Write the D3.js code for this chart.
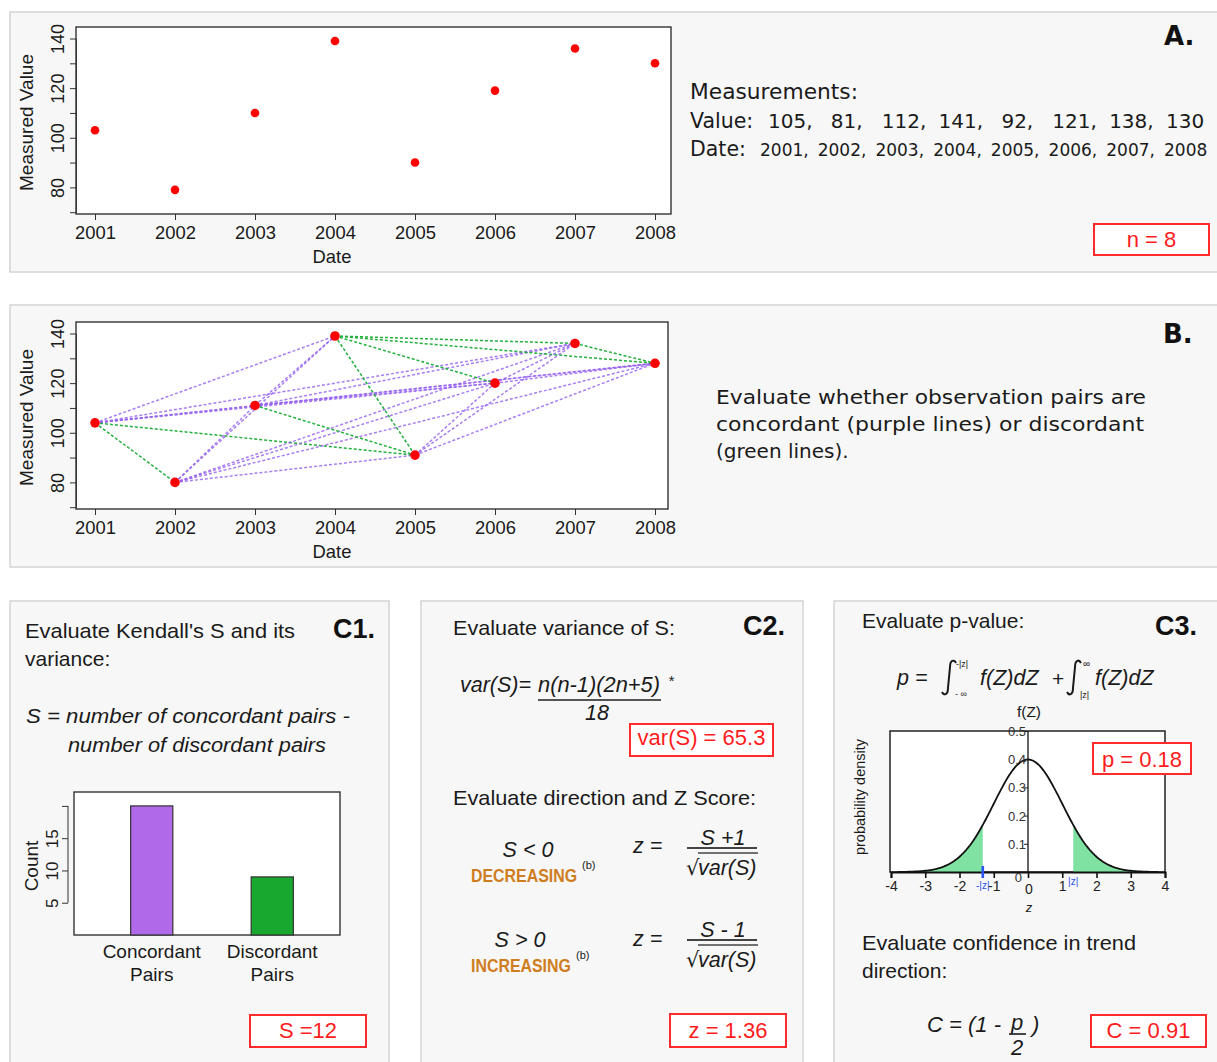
<!DOCTYPE html>
<html>
<head>
<meta charset="utf-8">
<script src="https://cdn.jsdelivr.net/npm/d3@7"></script>
<style>
  body { margin: 0; background: #fff; }
  svg { display: block; font-family: "Liberation Sans", Arial, sans-serif; }
</style>
</head>
<body>
<svg id="fig" width="1217" height="1062"></svg>
<script>
// ---- data ----
const dates = [2001, 2002, 2003, 2004, 2005, 2006, 2007, 2008];
const valuesA = [103, 79, 110, 139, 90, 119, 136, 130];      // dots in panel A
const valuesB = [104, 80, 111, 139, 91, 120, 136, 128];      // dots in panel B
const listedValues = [105, 81, 112, 141, 92, 121, 138, 130]; // printed "Value:" list
const valueTicks = [70, 80, 90, 100, 110, 120, 130, 140];
const pairNames = ["Concordant Pairs", "Discordant Pairs"];
const pairCounts = [20, 9];
const countTicks = [5, 10, 15, 20];
const zTicks = [-4, -3, -2, -1, 0, 1, 2, 3, 4];
const densityTicks = [0.1, 0.2, 0.3, 0.4, 0.5];
const zShade = 1.32;
const nLabel = "n = 8", sLabel = "S =12", varLabel = "var(S) = 65.3";
const zLabel = "z = 1.36", pLabel = "p = 0.18", cLabel = "C = 0.91";

const svg = d3.select("#fig");
const VERA = "'DejaVu Sans', Verdana, sans-serif";
const ARIAL = "'Liberation Sans', Arial, sans-serif";

// little helper for text
function txt(x, y, s, o) {
  o = o || {};
  const t = svg.append("text").attr("x", x).attr("y", y).text(s)
    .attr("font-size", o.size || 20)
    .attr("fill", o.fill || "#1a1a1a")
    .attr("font-family", o.font || ARIAL);
  if (o.italic) t.attr("font-style", "italic");
  if (o.bold) t.attr("font-weight", "bold");
  if (o.anchor) t.attr("text-anchor", o.anchor);
  if (o.len) t.attr("textLength", o.len).attr("lengthAdjust", "spacingAndGlyphs");
  if (o.rot) t.attr("transform", "rotate(-90," + x + "," + y + ")");
  return t;
}

function panel(x, y, w, h) {
  svg.append("rect").attr("x", x).attr("y", y).attr("width", w).attr("height", h)
    .attr("fill", "#f7f7f7").attr("stroke", "#d4d4d4").attr("stroke-width", 1.5);
}

function redBox(x0, y0, x1, y1, label, size, base) {
  svg.append("rect").attr("x", x0).attr("y", y0).attr("width", x1 - x0).attr("height", y1 - y0)
    .attr("fill", "#fff").attr("stroke", "#ff2a2a").attr("stroke-width", 2);
  txt((x0 + x1) / 2, base, label, {size: size, fill: "#ff1c1c", anchor: "middle"});
}

// integral sign drawn as a stroke (top at y0, bottom at y1)
function integral(x, y0, y1) {
  const d = "M" + (x + 8) + "," + (y0 + 3) +
    "C" + (x + 6) + "," + (y0 - 1) + " " + (x + 2) + "," + y0 + " " + (x + 2) + "," + (y0 + 7) +
    "L" + x + "," + (y1 - 7) +
    "C" + x + "," + y1 + " " + (x - 4) + "," + (y1 + 1) + " " + (x - 6) + "," + (y1 - 3);
  svg.append("path").attr("d", d).attr("fill", "none").attr("stroke", "#1a1a1a").attr("stroke-width", 2);
}

panel(10, 12, 1212, 260);
panel(10, 305, 1212, 262);
panel(10, 601, 379, 470);
panel(421, 601, 382, 470);
panel(834, 601, 388, 470);

// ---- scatter plots (A and B) ----
function scatter(vals, f, pairs) {
  const x = d3.scaleLinear().domain([2001, 2008]).range([95, 655]);
  const y = d3.scaleLinear().domain([70, 140]).range([f.y1 - 1.8, f.y0 + 11.5]);
  const g = svg.append("g");

  g.append("rect").attr("x", f.x0).attr("y", f.y0).attr("width", f.x1 - f.x0).attr("height", f.y1 - f.y0)
    .attr("fill", "#fff").attr("stroke", "#333").attr("stroke-width", 1.4);

  const xa = g.append("g").attr("transform", "translate(0," + f.y1 + ")")
    .call(d3.axisBottom(x).tickValues(dates).tickFormat(d3.format("d")).tickSize(6));
  xa.select(".domain").remove();
  xa.selectAll("line").attr("stroke", "#333");
  xa.selectAll("text").attr("font-size", 18.4).attr("font-family", ARIAL).attr("fill", "#1a1a1a").attr("y", 12);

  const ya = g.append("g").attr("transform", "translate(" + f.x0 + ",0)")
    .call(d3.axisLeft(y).tickValues(valueTicks).tickSize(6).tickSizeOuter(0)
      .tickFormat(d => d % 20 ? "" : d));
  ya.select(".domain").attr("stroke", "#333");
  ya.selectAll("line").attr("stroke", "#333");
  ya.selectAll("text").attr("font-size", 18).attr("font-family", ARIAL).attr("fill", "#1a1a1a")
    .attr("transform", "rotate(-90)").attr("x", 0).attr("y", -12).attr("dy", 0)
    .attr("text-anchor", "middle");

  txt(33, (f.y0 + f.y1) / 2 + 2, "Measured Value", {size: 19, anchor: "middle", rot: true});
  txt(332, f.y1 + 49, "Date", {size: 18.4, anchor: "middle"});

  if (pairs) {
    const links = [];
    for (let i = 0; i < vals.length; i++)
      for (let j = i + 1; j < vals.length; j++)
        links.push({a: i, b: j, conc: vals[j] > vals[i]});
    g.selectAll("line.pair").data(links).enter().append("line").attr("class", "pair")
      .attr("x1", d => x(dates[d.a])).attr("y1", d => y(vals[d.a]))
      .attr("x2", d => x(dates[d.b])).attr("y2", d => y(vals[d.b]))
      .attr("stroke", d => d.conc ? "#935ef0" : "#22b03c")
      .attr("stroke-opacity", d => d.conc ? 0.8 : 1)
      .attr("stroke-width", 1.5).attr("stroke-dasharray", "3,2");
  }

  g.selectAll("circle").data(vals).enter().append("circle")
    .attr("cx", (d, i) => x(dates[i])).attr("cy", d => y(d))
    .attr("r", pairs ? 4.8 : 4.3).attr("fill", "#ff0000");
}

scatter(valuesA, {x0: 76, y0: 27, x1: 671, y1: 214}, false);
scatter(valuesB, {x0: 76, y0: 322, x1: 668, y1: 509}, true);

// panel A text
txt(1164, 45, "A.", {size: 26, bold: true, font: VERA, fill: "#111"});
txt(690, 99, "Measurements:", {size: 20.5, font: VERA, len: 168});
txt(690, 128, "Value:", {size: 20.5, font: VERA});
txt(690, 156, "Date:", {size: 20.5, font: VERA});
const vx = d3.scalePoint().domain(d3.range(listedValues.length)).range([768, 1166]);
listedValues.forEach((v, i) =>
  txt(vx(i) + (v < 100 ? 6 : 0), 128, v + (i < listedValues.length - 1 ? "," : ""), {size: 20, font: VERA}));
const dx = d3.scalePoint().domain(d3.range(dates.length)).range([760, 1164]);
dates.forEach((v, i) =>
  txt(dx(i), 156, v + (i < dates.length - 1 ? "," : ""), {size: 17, font: VERA}));
redBox(1094, 224, 1209, 255, nLabel, 22, 247);

// panel B text
txt(1163, 343, "B.", {size: 26, bold: true, font: VERA, fill: "#111"});
txt(716, 404, "Evaluate whether observation pairs are", {size: 20, font: VERA, len: 430});
txt(716, 431, "concordant (purple lines) or discordant", {size: 20, font: VERA, len: 428});
txt(716, 458, "(green lines).", {size: 20, font: VERA});

// ---- C1 ----
txt(25, 638, "Evaluate Kendall's S and its", {size: 21, len: 270});
txt(25, 666, "variance:", {size: 21});
txt(333, 638, "C1.", {size: 27, bold: true, fill: "#111"});
txt(26, 723, "S =  number of concordant pairs -", {size: 20.5, italic: true, len: 324});
txt(68, 752, "number of discordant pairs", {size: 20.5, italic: true, len: 258});

const xb = d3.scaleBand().domain(pairNames).range([94.5, 329.5]).paddingInner(0.65).paddingOuter(0.3);
const yb = d3.scaleLinear().domain([0, 22]).range([935, 793]);
svg.append("rect").attr("x", 74).attr("y", 792).attr("width", 266).attr("height", 143)
  .attr("fill", "#fff").attr("stroke", "#333").attr("stroke-width", 1.4);
svg.selectAll("rect.bar").data(pairCounts).enter().append("rect").attr("class", "bar")
  .attr("x", (d, i) => xb(pairNames[i])).attr("width", xb.bandwidth())
  .attr("y", d => yb(d)).attr("height", d => yb(0) - yb(d))
  .attr("fill", (d, i) => i ? "#19a82f" : "#b06ae9").attr("stroke", "#333").attr("stroke-width", 1.2);
const cy = svg.append("g").attr("transform", "translate(68,0)")
  .call(d3.axisLeft(yb).tickValues(countTicks).tickSize(6).tickFormat(d => d < 20 ? d : ""));
cy.select(".domain").remove();
cy.append("line").attr("y1", yb(5)).attr("y2", yb(20)).attr("stroke", "#333");
cy.selectAll("line").attr("stroke", "#333");
cy.selectAll("text").attr("font-size", 17).attr("font-family", ARIAL).attr("fill", "#1a1a1a")
  .attr("transform", "rotate(-90)").attr("x", 0).attr("y", -10).attr("dy", 0).attr("text-anchor", "middle");
txt(38, 866, "Count", {size: 19, anchor: "middle", rot: true});
pairNames.forEach(n => {
  const cx = xb(n) + xb.bandwidth() / 2, w = n.split(" ");
  txt(cx, 958, w[0], {size: 19, anchor: "middle"});
  txt(cx, 981, w[1], {size: 19, anchor: "middle"});
});
redBox(250, 1015, 366, 1047, sLabel, 22, 1038);

// ---- C2 ----
txt(453, 635, "Evaluate variance of S:", {size: 21, len: 222});
txt(743, 635, "C2.", {size: 27, bold: true, fill: "#111"});
txt(460, 692, "var(S)=", {size: 21.5, italic: true});
txt(538, 692, "n(n-1)(2n+5)", {size: 21.5, italic: true, len: 122});
txt(668, 686, "*", {size: 15, italic: true});
svg.append("line").attr("x1", 538).attr("x2", 661).attr("y1", 700).attr("y2", 700)
  .attr("stroke", "#555").attr("stroke-width", 2);
txt(597, 720, "18", {size: 21.5, italic: true, anchor: "middle"});
redBox(630, 724, 773, 756, varLabel, 22, 745);
txt(453, 805, "Evaluate direction and Z Score:", {size: 21, len: 303});

function zFormula(cond, word, supX, num, yy) {
  txt(yy.cx, yy.top, cond, {size: 21.5, italic: true, anchor: "middle"});
  // condensed bold word: squeeze horizontally
  svg.append("text").attr("transform", "translate(471," + (yy.top + 25) + ") scale(0.86,1)")
    .attr("font-size", 18.5).attr("font-weight", "bold").attr("font-family", ARIAL)
    .attr("fill", "#cf7d1f").text(word);
  txt(supX, yy.top + 12, "(b)", {size: 11});
  txt(633, yy.z, "z =", {size: 21.5, italic: true});
  txt(723, yy.num, num, {size: 21.5, italic: true, anchor: "middle"});
  svg.append("line").attr("x1", 687).attr("x2", 757).attr("y1", yy.num + 3).attr("y2", yy.num + 3)
    .attr("stroke", "#444").attr("stroke-width", 1.8);
  txt(686, yy.num + 30, "\u221A", {size: 21, font: VERA});
  svg.append("line").attr("x1", 698).attr("x2", 758).attr("y1", yy.num + 8).attr("y2", yy.num + 8)
    .attr("stroke", "#444").attr("stroke-width", 1.5);
  txt(698, yy.num + 30, "var(S)", {size: 21.5, italic: true});
}
zFormula("S < 0", "DECREASING", 582, "S +1", {cx: 528, top: 857, z: 853, num: 845});
zFormula("S > 0", "INCREASING", 576, "S - 1", {cx: 520, top: 947, z: 946, num: 937});
redBox(670, 1014, 786, 1047, zLabel, 22, 1038);

// ---- C3 ----
txt(862, 628, "Evaluate p-value:", {size: 21});
txt(1155, 635, "C3.", {size: 27, bold: true, fill: "#111"});
txt(897, 685, "p =", {size: 21.5, italic: true});
integral(948, 660, 695);
txt(956, 667, "-|z|", {size: 9});
txt(955, 697, "- \u221E", {size: 9});
txt(980, 685, "f(Z)dZ", {size: 21.5, italic: true});
txt(1052, 686, "+", {size: 21});
integral(1073, 660, 695);
txt(1083, 667, "\u221E", {size: 10});
txt(1080, 698, "|z|", {size: 9});
txt(1095, 685, "f(Z)dZ", {size: 21.5, italic: true});

const xz = d3.scaleLinear().domain([-4, 4]).range([891, 1165]);
const yd = d3.scaleLinear().domain([0, 0.5]).range([872, 731]);
const pdf = z => Math.exp(-z * z / 2) / Math.sqrt(2 * Math.PI);
const zs = d3.range(-3.8, 3.8001, 0.05);

svg.append("rect").attr("x", 890).attr("y", 731).attr("width", 275).attr("height", 141)
  .attr("fill", "#fff").attr("stroke", "#222").attr("stroke-width", 1.5);
const area = d3.area().x(z => xz(z)).y0(yd(0)).y1(z => yd(pdf(z)));
svg.append("path").attr("d", area(zs.filter(z => z <= -zShade).concat([-zShade])))
  .attr("fill", "#7fe2a2");
svg.append("path").attr("d", area([zShade].concat(zs.filter(z => z >= zShade))))
  .attr("fill", "#7fe2a2");
svg.append("line").attr("x1", xz(0)).attr("x2", xz(0)).attr("y1", 731).attr("y2", 872)
  .attr("stroke", "#222").attr("stroke-width", 1.4);
svg.append("path").attr("d", d3.line().x(z => xz(z)).y(z => yd(pdf(z)))(zs))
  .attr("fill", "none").attr("stroke", "#111").attr("stroke-width", 1.8);

const xza = svg.append("g").attr("transform", "translate(0,872)")
  .call(d3.axisBottom(xz).tickValues(zTicks).tickSize(6).tickFormat(d3.format("d")));
xza.select(".domain").attr("stroke", "#111").attr("stroke-width", 2);
xza.selectAll("line").attr("stroke", "#111").attr("stroke-width", 1.6);
xza.selectAll("text").attr("font-size", 14).attr("font-family", ARIAL).attr("fill", "#222")
  .attr("y", 9).text(d => d < 0 ? "-" + Math.abs(d) : d);
xza.selectAll(".tick").filter(d => d === 0).select("text").text("");

const yda = svg.append("g").attr("transform", "translate(" + xz(0) + ",0)")
  .call(d3.axisLeft(yd).tickValues(densityTicks).tickSize(4).tickSizeOuter(0).tickFormat(d3.format(".1f")));
yda.select(".domain").remove();
yda.selectAll("line").attr("stroke", "#222");
yda.selectAll("text").attr("font-size", 13).attr("font-family", ARIAL).attr("fill", "#333")
  .attr("x", -2).attr("dy", "0.35em");
txt(1022, 882, "0", {size: 13, anchor: "end", fill: "#333"});
txt(1029, 894, "0", {size: 14, anchor: "middle", fill: "#222"});
txt(1029, 912, "z", {size: 13, italic: true, anchor: "middle"});
txt(1029, 717, "f(Z)", {size: 15.5, anchor: "middle"});
txt(865, 797, "probability density", {size: 14.5, anchor: "middle", rot: true});

svg.append("line").attr("x1", xz(-zShade)).attr("x2", xz(-zShade)).attr("y1", 866).attr("y2", 878)
  .attr("stroke", "#2a55ee").attr("stroke-width", 2.6);
txt(xz(-zShade), 889, "-|z|", {size: 10, fill: "#2a55ee", anchor: "middle"});
txt(xz(zShade), 885, "|z|", {size: 10, fill: "#2a55ee", anchor: "middle"});
redBox(1093, 743, 1191, 774, pLabel, 22, 767);

txt(862, 950, "Evaluate confidence in trend", {size: 21, len: 274});
txt(862, 978, "direction:", {size: 21});
txt(927, 1032, "C = (1 -", {size: 22, italic: true});
txt(1017, 1030, "p", {size: 22, italic: true, anchor: "middle"});
svg.append("line").attr("x1", 1009).attr("x2", 1026).attr("y1", 1034).attr("y2", 1034)
  .attr("stroke", "#333").attr("stroke-width", 1.8);
txt(1017, 1055, "2", {size: 22, italic: true, anchor: "middle"});
txt(1032, 1032, ")", {size: 22, italic: true});
redBox(1091, 1015, 1206, 1047, cLabel, 22, 1038);
</script>
</body>
</html>
